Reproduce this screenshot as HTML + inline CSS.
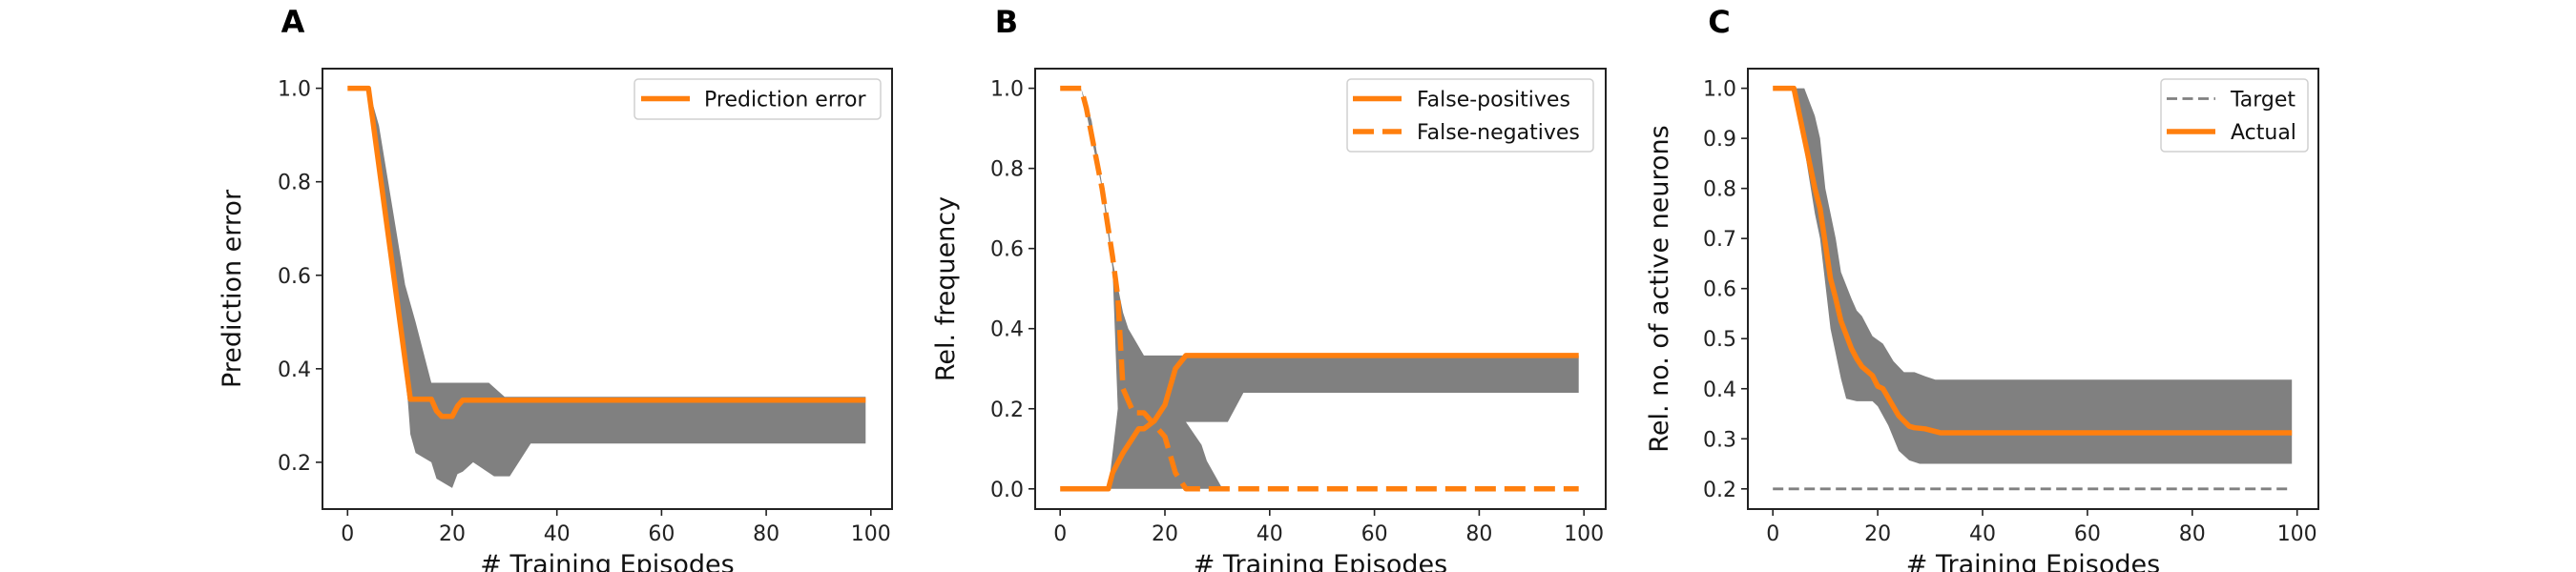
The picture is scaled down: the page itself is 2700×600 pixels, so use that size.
<!DOCTYPE html>
<html>
<head>
<meta charset="utf-8">
<style>
  html, body { margin: 0; padding: 0; background: #fff; }
  svg { display: block; font-family: "DejaVu Sans", "Liberation Sans", sans-serif; }
</style>
</head>
<body>
<svg id="fig" width="2700" height="600" viewBox="0 0 2700 600" xmlns="http://www.w3.org/2000/svg"></svg>
<script>
// ---------- DATA ----------
// Panel A
const aMeanX = [0, 4, 12, 16, 17, 18, 20, 21, 22, 99];
const aMeanY = [1.0, 1.0, 0.335, 0.335, 0.31, 0.298, 0.298, 0.32, 0.333, 0.333];
const aBandX = [4, 5, 6, 11, 13, 16, 27, 30, 99, 99, 35, 31, 28, 26, 24, 22, 21, 20, 17, 16, 13, 12, 11.5, 5];
const aBandY = [1.0, 0.96, 0.92, 0.58, 0.5, 0.37, 0.37, 0.34, 0.34, 0.24, 0.24, 0.17, 0.17, 0.185, 0.2, 0.18, 0.175, 0.145, 0.165, 0.2, 0.22, 0.26, 0.333, 0.95];
// Panel B
const bFpX = [0, 9.2, 10, 12, 15, 16, 18, 20, 22, 24, 99];
const bFpY = [0, 0, 0.04, 0.09, 0.15, 0.15, 0.17, 0.21, 0.3, 0.333, 0.333];
const bFnX = [0, 4, 5, 8, 10, 11, 12, 14, 16, 18, 20, 22, 24, 99];
const bFnY = [1.0, 1.0, 0.95, 0.75, 0.58, 0.48, 0.25, 0.19, 0.19, 0.16, 0.13, 0.04, 0.0, 0.0];
const bBandX = [4, 6, 9, 10, 12, 13, 16, 99, 99, 35, 32, 24, 27, 28, 31, 9.2, 11, 10, 8];
const bBandY = [1.0, 0.92, 0.68, 0.57, 0.44, 0.4, 0.333, 0.333, 0.24, 0.24, 0.167, 0.167, 0.11, 0.07, 0.0, 0.0, 0.2, 0.55, 0.75];
// Panel C
const cActX = [0, 4, 6, 8, 9, 11, 12, 13, 15, 16, 17, 19, 20, 21, 22, 24, 26, 27, 29, 32, 99];
const cActY = [1.0, 1.0, 0.9, 0.8, 0.76, 0.62, 0.58, 0.535, 0.48, 0.46, 0.444, 0.426, 0.405, 0.4, 0.382, 0.346, 0.325, 0.322, 0.32, 0.312, 0.312];
const cBandX = [4, 6, 8, 9, 10, 12, 13, 15, 16, 17, 19, 21, 23, 25, 27, 29, 31, 99, 99, 28, 26, 24, 22, 20, 19, 16, 14, 13, 12, 11, 9, 8, 6];
const cBandY = [1.0, 1.0, 0.945, 0.9, 0.8, 0.7, 0.633, 0.58, 0.556, 0.545, 0.505, 0.49, 0.455, 0.433, 0.433, 0.425, 0.418, 0.418, 0.25, 0.25, 0.257, 0.276, 0.327, 0.365, 0.375, 0.375, 0.38, 0.42, 0.47, 0.52, 0.7, 0.75, 0.88];
const cTargetX = [0, 99];
const cTargetY = [0.2, 0.2];
const xTicks = [0, 20, 40, 60, 80, 100];
const aYTicks = [0.2, 0.4, 0.6, 0.8, 1.0];
const bYTicks = [0.0, 0.2, 0.4, 0.6, 0.8, 1.0];
const cYTicks = [0.2, 0.3, 0.4, 0.5, 0.6, 0.7, 0.8, 0.9, 1.0];

// ---------- DRAWING ----------
const NS = "http://www.w3.org/2000/svg";
const svg = document.getElementById("fig");
const ORANGE = "#ff7f0e", GRAY = "#808080";

function mk(tag, attrs, parent) {
  const e = document.createElementNS(NS, tag);
  for (const k in attrs) e.setAttribute(k, attrs[k]);
  (parent || svg).appendChild(e);
  return e;
}

function panel(cfg) {
  const g = mk("g", {});
  
  
  const sx = v => cfg.x0 + (v / 100) * (cfg.x100 - cfg.x0);
  const sy = v => cfg.yTop + (cfg.vTop - v) / (cfg.vTop - cfg.vBot) * (cfg.yBot - cfg.yTop);
  cfg.sx = sx; cfg.sy = sy; cfg.g = g;
  return cfg;
}

function polyPts(p, xs, ys) { return xs.map((x, i) => p.sx(x).toFixed(1) + "," + p.sy(ys[i]).toFixed(1)).join(" "); }

function band(p, xs, ys, name) {
  const e = mk("polygon", { points: polyPts(p, xs, ys), fill: GRAY, stroke: "none" }, p.g);
  
  
}
function line(p, xs, ys, color, width, dash, name) {
  const a = { points: polyPts(p, xs, ys), fill: "none", stroke: color, "stroke-width": width, "stroke-linejoin": "round" };
  if (dash) a["stroke-dasharray"] = dash;
  const e = mk("polyline", a, p.g);
  
  
}

function axes(p, yTicks, decimals, ylabel, letter, letterX) {
  const g = p.g;
  const frame = mk("rect", { x: p.left, y: p.top, width: p.right - p.left, height: p.bottom - p.top, fill: "none", stroke: "#222", "stroke-width": 2 }, g);
  
  
  xTicks.forEach(t => {
    const x = p.sx(t);
    mk("line", { x1: x, y1: p.bottom, x2: x, y2: p.bottom + 7, stroke: "#222", "stroke-width": 1.6 }, g);
    const tx = mk("text", { x: x, y: 567, "font-size": 22, "text-anchor": "middle", fill: "#222" }, g);
    tx.textContent = String(t);
    
    
  });
  yTicks.forEach(t => {
    const y = p.sy(t);
    mk("line", { x1: p.left - 7, y1: y, x2: p.left, y2: y, stroke: "#222", "stroke-width": 1.6 }, g);
    const ty = mk("text", { x: p.left - 12, y: y + 8, "font-size": 22, "text-anchor": "end", fill: "#222" }, g);
    ty.textContent = t.toFixed(decimals);
    
    
  });
  const xl = mk("text", { x: (p.left + p.right) / 2, y: 601, "font-size": 27, "text-anchor": "middle", fill: "#111" }, g);
  xl.textContent = "# Training Episodes";
  
  
  const cy = (p.top + p.bottom) / 2;
  const yl = mk("text", { x: 0, y: 0, "font-size": 27, "text-anchor": "middle", fill: "#111", transform: `translate(${p.ylx},${cy}) rotate(-90)` }, g);
  yl.textContent = ylabel;
  
  
  const lt = mk("text", { x: letterX, y: 34, "font-size": 32, "font-weight": "bold", "text-anchor": "middle", fill: "#000" }, g);
  lt.textContent = letter;
  
  
}

function legend(p, x, y, w, h, entries) {
  const lg = mk("g", {}, p.g);
  
  
  mk("rect", { x: x, y: y, width: w, height: h, rx: 4, fill: "#fff", "fill-opacity": 0.85, stroke: "#d0d0d0", "stroke-width": 1.5 }, lg);
  entries.forEach((en, i) => {
    const ey = y + 20.5 + i * 34.5;
    const eg = mk("g", {}, lg);
    
    
    const a = { x1: x + en.sx0, y1: ey, x2: x + en.sx1, y2: ey, stroke: en.color, "stroke-width": en.w };
    if (en.dash) a["stroke-dasharray"] = en.dash;
    mk("line", a, eg);
    const t = mk("text", { x: x + en.tx, y: ey + 8, "font-size": 22, fill: "#111" }, eg);
    t.textContent = en.label;
  });
}

// Panel A
const A = panel({ name: "panel-a", left: 338, right: 935, top: 72, bottom: 534, x0: 364.3, x100: 912.8, yTop: 92.6, vTop: 1.0, yBot: 484.9, vBot: 0.2, ylx: 252 });
band(A, aBandX, aBandY, "error-band");
line(A, aMeanX, aMeanY, ORANGE, 5.5, null, "prediction-error-line");
axes(A, aYTicks, 1, "Prediction error", "A", 307);
legend(A, 665, 83, 258, 42, [{ label: "Prediction error", color: ORANGE, w: 5.5, sx0: 7, sx1: 58, tx: 73 }]);

// Panel B
const B = panel({ name: "panel-b", left: 1085, right: 1683, top: 72, bottom: 534, x0: 1111.2, x100: 1660.2, yTop: 92.6, vTop: 1.0, yBot: 512.8, vBot: 0.0, ylx: 1000 });
band(B, bBandX, bBandY, "frequency-band");
line(B, bFpX, bFpY, ORANGE, 5.5, null, "false-positives-line");
line(B, bFnX, bFnY, ORANGE, 5.5, "22 9", "false-negatives-line");
axes(B, bYTicks, 1, "Rel. frequency", "B", 1055);
legend(B, 1412, 83, 258, 76, [
  { label: "False-positives", color: ORANGE, w: 5.5, sx0: 6, sx1: 57, tx: 73 },
  { label: "False-negatives", color: ORANGE, w: 5.5, dash: "22 9", sx0: 6, sx1: 57, tx: 73 }
]);

// Panel C
const C = panel({ name: "panel-c", left: 1832, right: 2430, top: 72, bottom: 534, x0: 1858.2, x100: 2407.7, yTop: 92.6, vTop: 1.0, yBot: 512.8, vBot: 0.2, ylx: 1748 });
band(C, cBandX, cBandY, "active-neurons-band");
line(C, cTargetX, cTargetY, GRAY, 2.8, "11 5.5", "target-line");
line(C, cActX, cActY, ORANGE, 5.5, null, "actual-line");
axes(C, cYTicks, 1, "Rel. no. of active neurons", "C", 1802);
legend(C, 2265, 83, 154, 76, [
  { label: "Target", color: GRAY, w: 2.8, dash: "11 5.5", sx0: 6, sx1: 57, tx: 73 },
  { label: "Actual", color: ORANGE, w: 5.5, sx0: 6, sx1: 57, tx: 73 }
]);
</script>
</body>
</html>
